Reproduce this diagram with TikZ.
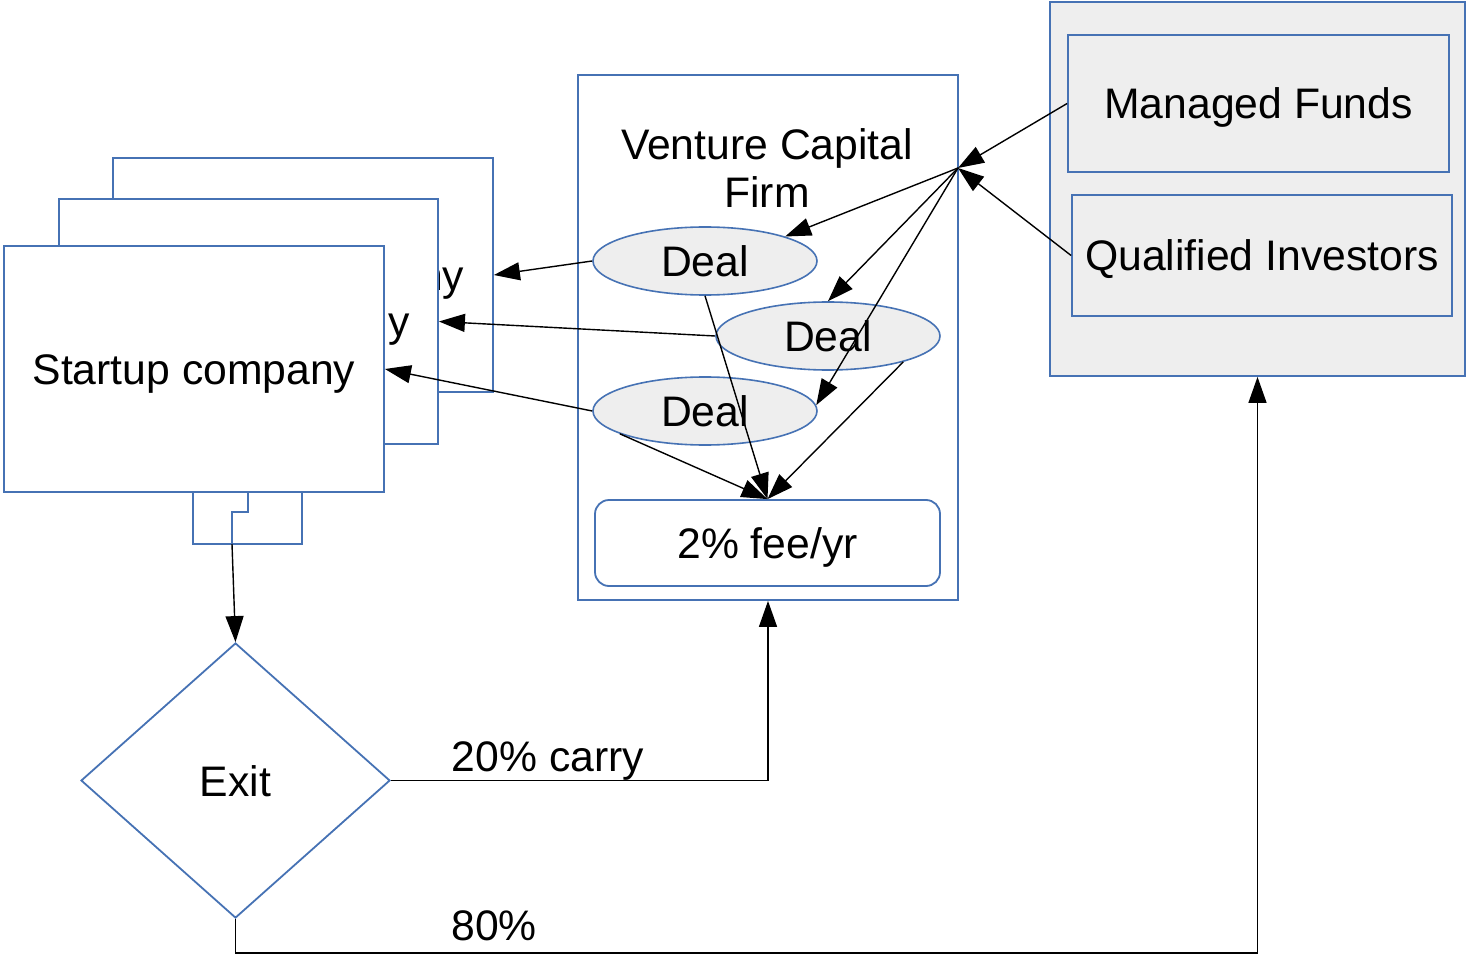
\documentclass[tikz,border=0pt]{standalone}
\usepackage{fontspec}
\setmainfont{Liberation Sans}
\usetikzlibrary{arrows.meta,shapes.geometric,calc}
\definecolor{bl}{HTML}{4672B4}
\definecolor{gr}{HTML}{EEEEEE}
\begin{document}
\begin{tikzpicture}[x=1pt,y=-1pt,
  txt/.style={font=\fontsize{42.7}{48}\selectfont,text height=31pt,text depth=0pt},
  box/.style={draw=bl,line width=1.8pt,fill=white,inner sep=0pt,txt},
  graybox/.style={box,fill=gr},
  dealnode/.style={ellipse,draw=bl,line width=1.6pt,fill=gr,inner sep=0pt,minimum width=224pt,minimum height=68pt,txt},
  lbl/.style={inner sep=0pt,txt},
  arr/.style={draw=black,line width=1.4pt,-{Triangle[length=26pt,width=18pt]}},
  ln/.style={draw=black,line width=1.4pt}]
\useasboundingbox (0,0) rectangle (1466,957);
% startup stack
\node[box,minimum width=380pt,minimum height=234pt] (s3) at (303,275) {Startup company};
\node[box,minimum width=379pt,minimum height=245pt] (s2) at (248.5,321.5) {Startup company};
\draw[draw=bl,line width=1.8pt] (193,492) rectangle (302,544);
\draw[draw=bl,line width=1.8pt] (248,492) -- (248,512) -- (232,512) -- (232,544);
\coordinate (stub) at (232,544);
\node[box,minimum width=380pt,minimum height=246pt] (s1) at (194,369) {Startup company};
% VC firm
\node[box,minimum width=380pt,minimum height=525pt] (vc) at (768,337.5) {};
\node[inner sep=0pt,align=center,font=\fontsize{42.7}{48}\selectfont] (vct) at (767,168) {Venture Capital\\Firm};
\node[dealnode] (d1) at (705,261) {Deal};
\node[dealnode] (d2) at (828,336) {Deal};
\node[dealnode] (d3) at (705,411) {Deal};
\node[box,rounded corners=14pt,minimum width=345pt,minimum height=86pt] (fee) at (767.5,543) {2\% fee/yr};
\coordinate (hub) at (958,168);
% investors
\node[graybox,minimum width=415pt,minimum height=374pt] (inv) at (1257.5,189) {};
\node[graybox,minimum width=381pt,minimum height=137pt] (mf) at (1258.5,103.5) {Managed Funds};
\node[graybox,minimum width=380pt,minimum height=121pt] (qi) at (1262,255.5) {Qualified Investors};
% exit
\node[diamond,draw=bl,line width=1.8pt,inner sep=0pt,minimum width=309pt,minimum height=275pt,txt] (exit) at (235.5,780.5) {Exit};
% connectors
\draw[arr] (mf.west) -- (hub);
\draw[arr] (qi.west) -- (hub);
\draw[arr] (hub) -- (d1.17);
\draw[arr] (hub) -- (d2.north);
\draw[arr] (hub) -- (d3.3);
\draw[arr] (d1.west) -- (s3.east);
\draw[arr] (d2.west) -- (s2.east);
\draw[arr] (d3.west) -- (s1.east);
\draw[arr] (d1.south) -- (fee.north);
\draw[arr] (d2.-19) -- (fee.north);
\draw[arr] (d3.195) -- (fee.north);
\draw[arr] (stub) -- (exit.north);
\draw[arr] (exit.east) -| (vc.south);
\draw[arr] (exit.south) -- ++(0,34) -| (inv.south);
\node[lbl] (carry) at (548,756) {20\% carry};
\node[lbl] (eighty) at (494,925) {80\%};
\end{tikzpicture}
\end{document}
